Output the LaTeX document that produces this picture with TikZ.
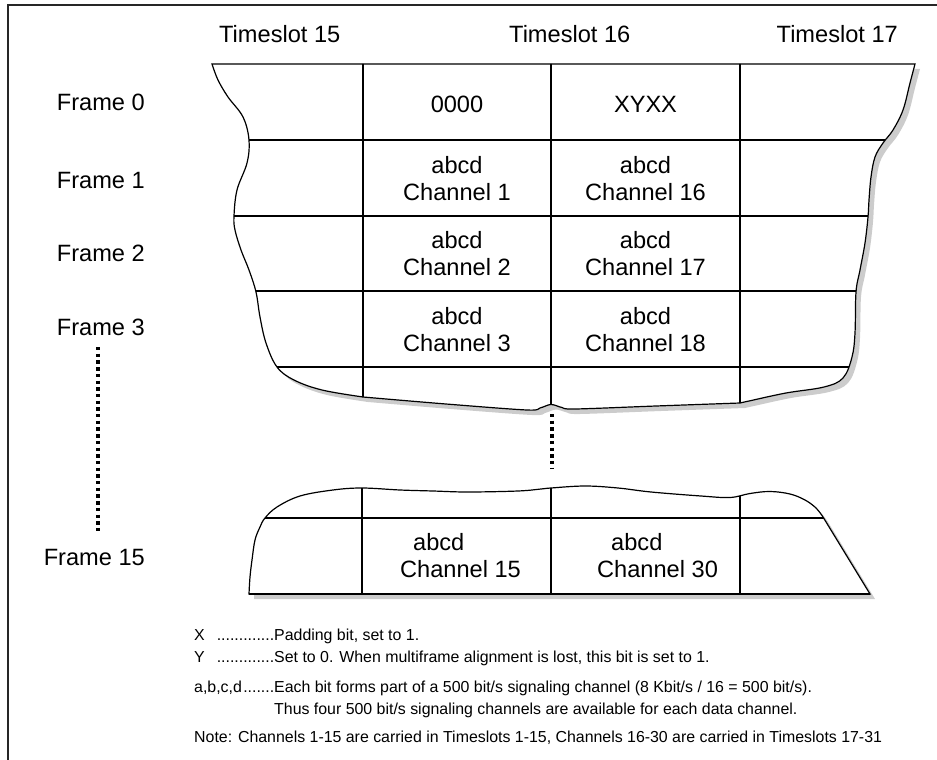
\documentclass[tikz,border=0pt]{standalone}
\usepackage{fontspec}
\setmainfont{Liberation Sans}
\def\upperpath{(212,64) -- (915,64) -- plot[smooth,tension=0.6] coordinates {(915,64) (910,83) (903,110) (893,130) (883,143) (875,157) (871,177) (869,200) (868,217) (865,243) (860,270) (856,292) (855,333) (852,357) (843,378) (824,387) (786,393) (749,401) (740,403)} -- plot[smooth,tension=0.55] coordinates {(740,403) (656,406) (575,409) (562,407.5) (551,404.5) (540,408) (527,410) (446,404) (363,397)} -- plot[smooth,tension=0.6] coordinates {(363,397) (322,390) (294,380) (277,367) (266,343) (260,317) (256,292) (249,270) (241,250) (235,230) (234,216) (237,190) (247,163) (249,140) (243,117) (228,97) (218,80) (212,64)} -- cycle}
\def\lowerpath{(249,594) -- plot[smooth,tension=0.6] coordinates {(249,594) (250,577) (252,560) (255,540) (260,527) (265,518) (277,507) (300,496) (333,490) (362,488) (400,490) (433,491) (468,492) (518,491) (541,489) (551,488) (585,486) (618,488) (651,492) (701,496) (730,497.5) (750,493.5) (770,491.5) (790,494) (805,500) (816,508) (823,517)} -- (870,594) -- cycle}
\begin{document}
\begin{tikzpicture}[x=1pt,y=-1pt,
  big/.style={font=\fontsize{23.6}{28}\selectfont, inner sep=0pt},
  small/.style={font=\fontsize{15.9}{19}\selectfont, inner sep=0pt},
  gridline/.style={line width=1.1pt, black},
  outline/.style={line width=1.2pt, black},
  shadowfill/.style={fill=black!20},
  dotline/.style={line width=3.4pt, dash pattern=on 3.4pt off 3.3pt}]
\useasboundingbox (0,0) rectangle (937,760);
% border
\draw[line width=1.6pt, black!85] (937,5) -- (8,5) -- (8,760);

% ---------- upper table ----------
\fill[shadowfill, shift={(5,5)}] \upperpath;
\fill[white] \upperpath;
\begin{scope}
  \clip \upperpath;
  \foreach \yy in {140,216,291,367} \draw[gridline] (200,\yy) -- (930,\yy);
  \foreach \xx in {363,551,740} \draw[gridline] (\xx,60) -- (\xx,420);
\end{scope}
\draw[outline] \upperpath;

% ---------- lower table ----------
\fill[shadowfill, shift={(5,5)}] \lowerpath;
\fill[white] \lowerpath;
\begin{scope}
  \clip \lowerpath;
  \draw[gridline] (240,518) -- (880,518);
  \foreach \xx in {362,551,740} \draw[gridline] (\xx,480) -- (\xx,600);
\end{scope}
\draw[outline] \lowerpath;
\draw[line width=2pt] (249,594) -- (870,594);

% ---------- timeslot labels ----------
\node[big, anchor=base west] (ts15) at (219,43) {Timeslot 15};
\node[big, anchor=base west] (ts16) at (509,43) {Timeslot 16};
\node[big, anchor=base east] (ts17) at (898,43) {Timeslot 17};

% ---------- frame labels ----------
\node[big, anchor=base east] (f0) at (145,110.5) {Frame 0};
\node[big, anchor=base east] (f1) at (145,188) {Frame 1};
\node[big, anchor=base east] (f2) at (145,261) {Frame 2};
\node[big, anchor=base east] (f3) at (145,335) {Frame 3};
\node[big, anchor=base east] (f15) at (145,565) {Frame 15};
\coordinate (ld1) at (98,347);
\coordinate (ld2) at (98,534);
\draw[dotline] (ld1) -- (ld2);
\coordinate (md1) at (552,414);
\coordinate (md2) at (552,469);
\draw[dotline] (md1) -- (md2);

% ---------- upper cells ----------
\node[big, anchor=base] (c00) at (457,112) {0000};
\node[big, anchor=base] (c01) at (645.5,112) {XYXX};
\node[big, anchor=base] (c10a) at (457,173) {abcd};
\node[big, anchor=base] (c10b) at (457,200) {Channel 1};
\node[big, anchor=base] (c11a) at (645.5,173) {abcd};
\node[big, anchor=base] (c11b) at (645.5,200) {Channel 16};
\node[big, anchor=base] (c20a) at (457,248.7) {abcd};
\node[big, anchor=base] (c20b) at (457,275.7) {Channel 2};
\node[big, anchor=base] (c21a) at (645.5,248.7) {abcd};
\node[big, anchor=base] (c21b) at (645.5,275.7) {Channel 17};
\node[big, anchor=base] (c30a) at (457,324) {abcd};
\node[big, anchor=base] (c30b) at (457,351) {Channel 3};
\node[big, anchor=base] (c31a) at (645.5,324) {abcd};
\node[big, anchor=base] (c31b) at (645.5,351) {Channel 18};

% ---------- lower cells ----------
\node[big, anchor=base west] (l0a) at (413,550) {abcd};
\node[big, anchor=base west] (l0b) at (400,577) {Channel 15};
\node[big, anchor=base west] (l1a) at (611,550) {abcd};
\node[big, anchor=base west] (l1b) at (597,577) {Channel 30};

% ---------- notes ----------
\node[small, anchor=base west] (nx) at (194,640) {X};
\node[small, anchor=base west] (nxt) at (274,640) {\llap{.............}Padding bit, set to 1.};
\node[small, anchor=base west] (ny) at (194,662) {Y};
\node[small, anchor=base west] (nyt) at (274,662) {\llap{.............}Set to 0. When multiframe alignment is lost, this bit is set to 1.};
\node[small, anchor=base west] (na) at (194,692) {a,b,c,d};
\node[small, anchor=base west] (nat) at (274,692) {\llap{.......}Each bit forms part of a 500 bit/s signaling channel (8 Kbit/s / 16 = 500 bit/s).};
\node[small, anchor=base west] (nat2) at (274,714) {Thus four 500 bit/s signaling channels are available for each data channel.};
\node[small, anchor=base west] (nn) at (194,742) {Note: Channels 1-15 are carried in Timeslots 1-15, Channels 16-30 are carried in Timeslots 17-31};
\end{tikzpicture}
\end{document}
